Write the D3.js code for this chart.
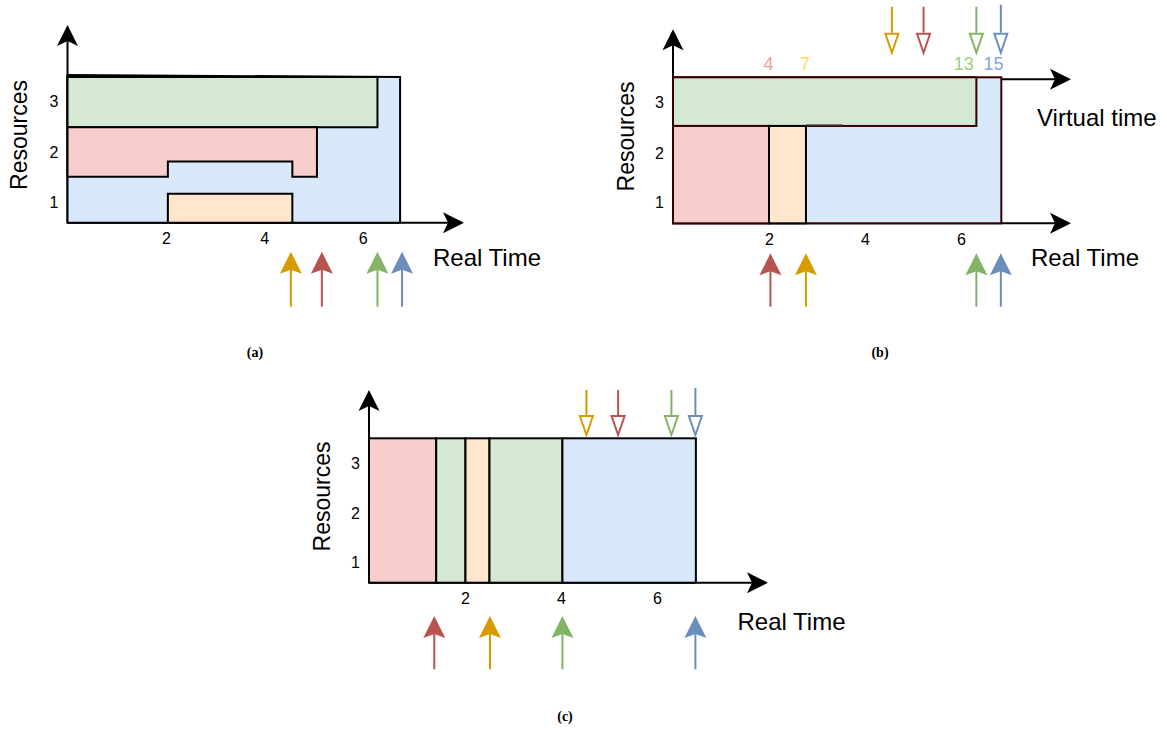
<!DOCTYPE html>
<html>
<head>
<meta charset="utf-8">
<script src="https://cdn.jsdelivr.net/npm/d3@7"></script>
<style>
  body { margin: 0; background: #fff; }
  svg { font-family: "Liberation Sans", Arial, sans-serif; }
</style>
</head>
<body>
<svg id="chart" width="1167" height="731"></svg>
<script>
// ---- data (time units on x, resource units on y) ----
const ticksX = [2, 4, 6];
const ticksY = [1, 2, 3];
const ticksYPos = [0.42, 1.43, 2.48];

// (a) real time schedule, shapes as polygons
const aBlue = [[0, 0], [0, 3.02], [6.76, 2.98], [6.76, 0]];
const aGreen = [[0, 1.95], [6.3, 1.95], [6.3, 2.98], [0, 2.98]];
const aPink = [[0, 1.95], [5.07, 1.95], [5.07, 0.94], [4.57, 0.94], [4.57, 1.25],
               [2.04, 1.25], [2.04, 0.94], [0, 0.94]];
const aOrange = [[2.04, 0], [4.57, 0], [4.57, 0.59], [2.04, 0.59]];
const aFinishTask = ["orange", "red", "green", "blue"];
const aFinish = [4.54, 5.17, 6.3, 6.8];

// (b) virtual time schedule: [task, start, end, low, high]
const bBlocks = [["blue", 0, 6.84, 0, 3], ["green", 0, 6.32, 2, 3],
                 ["red", 0, 2, 0, 2], ["orange", 2, 2.77, 0, 2]];
const bVirtualLabels = ["4", "7", "13", "15"];
const bVirtualTask = ["red", "orange", "green", "blue"];
const bVirtualPos = [1.99, 2.75, 6.06, 6.68];
const bRealTask = ["red", "orange", "green", "blue"];
const bRealFinish = [2.03, 2.77, 6.32, 6.83];
const bVirtTask = ["orange", "red", "green", "blue"];
const bVirtFinish = [4.56, 5.22, 6.32, 6.83];

// (c)
const cBlocks = [["red", 0, 1.4, 0, 3], ["green", 1.4, 2.01, 0, 3], ["orange", 2.01, 2.51, 0, 3],
                 ["green", 2.51, 4.03, 0, 3], ["blue", 4.03, 6.81, 0, 3]];
const cRealTask = ["red", "orange", "green", "blue"];
const cRealFinish = [1.36, 2.52, 4.03, 6.8];
const cVirtTask = ["orange", "red", "green", "blue"];
const cVirtFinish = [4.53, 5.19, 6.3, 6.8];

const fills = { orange: "#ffe6cc", red: "#f8cecc", green: "#d5e8d4", blue: "#dae8fc" };
const lines = { orange: "#d79b00", red: "#b85450", green: "#82b366", blue: "#6c8ebf" };
const light = { orange: "#ffd966", red: "#f19c99", green: "#97d077", blue: "#7ea6e0" };

const svg = d3.select("#chart");

function head(g, tx, ty, deg, len, wid, notch, fill, stroke) {
  g.append("path")
    .attr("d", `M0,0L${-len},${-wid / 2}L${-len + notch},0L${-len},${wid / 2}Z`)
    .attr("transform", `translate(${tx},${ty}) rotate(${deg})`)
    .attr("fill", fill)
    .attr("stroke", stroke || "none")
    .attr("stroke-width", 2);
}

function panel(p) {
  const x = d3.scaleLinear().domain([0, 8]).range([p.ox, p.ox + 8 * p.ux]);
  const y = d3.scaleLinear().domain([0, 4]).range([p.oy, p.oy - 4 * p.uy]);
  const g = svg.append("g");

  // x axis
  g.append("line").attr("x1", x(0)).attr("y1", y(0)).attr("x2", p.xTip - 6).attr("y2", y(0))
    .attr("stroke", "#000").attr("stroke-width", 2);
  head(g, p.xTip, y(0), 0, 21, 21, 5, "#000");
  // y axis
  g.append("line").attr("x1", x(0)).attr("y1", y(0)).attr("x2", x(0)).attr("y2", p.yTip + 6)
    .attr("stroke", "#000").attr("stroke-width", 2);
  head(g, x(0), p.yTip, -90, 21, 21, 5, "#000");

  const ax = g.append("g").attr("transform", `translate(0,${y(0)})`)
    .call(d3.axisBottom(x).tickValues(ticksX).tickSize(0).tickPadding(10));
  ax.select(".domain").remove();
  ax.selectAll("text").style("font-size", "16px").style("font-family", "Liberation Sans, Arial, sans-serif");

  const ay = g.append("g").attr("transform", `translate(${x(0)},0)`)
    .call(d3.axisLeft(y).tickValues(ticksYPos).tickFormat((d, i) => ticksY[i]).tickSize(0).tickPadding(9));
  ay.select(".domain").remove();
  ay.selectAll("text").style("font-size", "16px").style("font-family", "Liberation Sans, Arial, sans-serif");

  g.append("text").attr("transform", `translate(${p.resX},${p.resY}) rotate(-90)`)
    .attr("text-anchor", "middle").attr("dominant-baseline", "central")
    .style("font-size", "23px").text("Resources");
  g.append("text").attr("x", p.realX).attr("y", p.realY)
    .attr("dominant-baseline", "central").style("font-size", "24px").text("Real Time");

  g.append("text").attr("x", p.capX).attr("y", p.capY).attr("text-anchor", "middle")
    .style("font-family", "Liberation Serif, DejaVu Serif, serif").style("font-weight", "bold")
    .style("font-size", "14px").text(p.caption);

  return { x, y, g };
}

function upArrows(P, p, tasks, vals) {
  vals.forEach((v, i) => {
    const c = lines[tasks[i]];
    const xx = P.x(v);
    P.g.append("line").attr("x1", xx).attr("x2", xx)
      .attr("y1", p.oy + p.botOff).attr("y2", p.oy + p.tipOff + 16)
      .attr("stroke", c).attr("stroke-width", 2);
    head(P.g, xx, p.oy + p.tipOff, -90, 22, 22, 4, c);
  });
}

function downArrows(P, tasks, vals, top, tip) {
  vals.forEach((v, i) => {
    const c = lines[tasks[i]];
    const xx = P.x(v);
    const t = tasks[i] === "blue" ? top - 2 : top;
    P.g.append("line").attr("x1", xx).attr("x2", xx).attr("y1", t).attr("y2", tip - 20)
      .attr("stroke", c).attr("stroke-width", 2);
    head(P.g, xx, tip, 90, 19, 13, 0, "#fff", c);
  });
}

function blocks(P, data, stroke, orangeStroke) {
  P.g.selectAll(null).data(data).join("rect")
    .attr("x", d => P.x(d[1])).attr("width", d => P.x(d[2]) - P.x(d[1]))
    .attr("y", d => P.y(d[4])).attr("height", d => P.y(d[3]) - P.y(d[4]))
    .attr("fill", d => fills[d[0]])
    .attr("stroke", d => d[0] === "orange" && orangeStroke ? orangeStroke : stroke)
    .attr("stroke-width", 2);
}

// ---- (a) ----
const pa = { ox: 67.5, oy: 222.7, ux: 49.2, uy: 48.9, xTip: 464, yTip: 25,
  resX: 19, resY: 135, realX: 433, realY: 257, capX: 255, capY: 357, caption: "(a)",
  tipOff: 29, botOff: 84 };
const A = panel(pa);
const poly = d3.line().x(d => A.x(d[0])).y(d => A.y(d[1]));
[[aBlue, "blue"], [aGreen, "green"], [aPink, "red"], [aOrange, "orange"]].forEach(([pts, t]) => {
  A.g.append("path").attr("d", poly(pts) + "Z")
    .attr("fill", fills[t]).attr("stroke", "#000").attr("stroke-width", 2)
    .attr("stroke-linejoin", "miter");
});
upArrows(A, pa, aFinishTask, aFinish);

// ---- (b) ----
const pb = { ox: 673, oy: 223.3, ux: 48, uy: 48.67, xTip: 1071, yTip: 29.3,
  resX: 626, resY: 136.5, realX: 1031, realY: 257, capX: 880, capY: 357, caption: "(b)",
  tipOff: 30, botOff: 83.4 };
const B = panel(pb);
// virtual time axis
B.g.append("line").attr("x1", B.x(0)).attr("x2", pb.xTip - 6)
  .attr("y1", B.y(2.96)).attr("y2", B.y(2.96)).attr("stroke", "#000").attr("stroke-width", 2);
head(B.g, pb.xTip, B.y(2.96), 0, 21, 21, 5, "#000");
blocks(B, bBlocks, "#330000", "#000");
B.g.append("line").attr("x1", B.x(2.77)).attr("x2", B.x(3.53))
  .attr("y1", B.y(2) - 1).attr("y2", B.y(2) - 1).attr("stroke", "#555").attr("stroke-width", 1.2);
B.g.append("text").attr("x", 1037).attr("y", 117.5).attr("dominant-baseline", "central")
  .style("font-size", "24px").text("Virtual time");
B.g.selectAll(null).data(bVirtualLabels).join("text")
  .attr("x", (d, i) => B.x(bVirtualPos[i])).attr("y", 63.5)
  .attr("text-anchor", "middle").attr("dominant-baseline", "central")
  .style("font-size", "18px").attr("fill", (d, i) => light[bVirtualTask[i]]).text(d => d);
upArrows(B, pb, bRealTask, bRealFinish);
downArrows(B, bVirtTask, bVirtFinish, 6.7, 52.7);

// ---- (c) ----
const pc = { ox: 369, oy: 582.7, ux: 48, uy: 48.13, xTip: 768, yTip: 390,
  resX: 322, resY: 496.5, realX: 737.5, realY: 621, capX: 565, capY: 721, caption: "(c)",
  tipOff: 33.3, botOff: 86.6 };
const C = panel(pc);
blocks(C, cBlocks, "#000");
upArrows(C, pc, cRealTask, cRealFinish);
downArrows(C, cVirtTask, cVirtFinish, 390, 435);
</script>
</body>
</html>
